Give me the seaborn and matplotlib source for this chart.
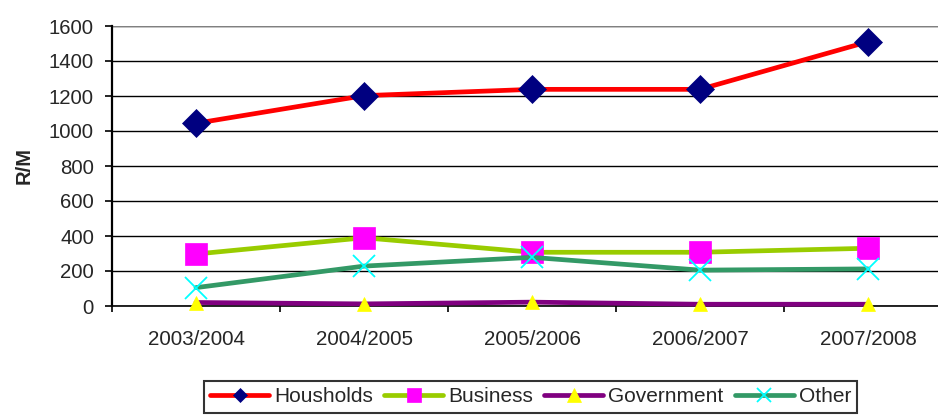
import matplotlib
matplotlib.use("Agg")
import matplotlib.pyplot as plt
from matplotlib.lines import Line2D
import numpy as np
import pandas as pd
import seaborn as sns

# Fiscal years and values (R/M) per sector
years = ["2003/2004", "2004/2005", "2005/2006", "2006/2007", "2007/2008"]
households = [1044, 1202, 1238, 1238, 1510]
business = [297, 390, 307, 307, 330]
government = [20, 12, 22, 10, 10]
other = [105, 228, 278, 205, 212]

series_names = ["Housholds", "Business", "Government", "Other"]
series_values = [households, business, government, other]
y_ticks = [0, 200, 400, 600, 800, 1000, 1200, 1400, 1600]

df = pd.concat(
    [pd.DataFrame({"year": years, "value": v, "sector": n})
     for n, v in zip(series_names, series_values)],
    ignore_index=True,
)

sns.set_style("white")
plt.rcParams["font.family"] = ["Liberation Sans", "DejaVu Sans"]

styles = {
    "Housholds": dict(color="#FF0000", marker="D", mfc="#000080", mec="#000080",
                      ms=14.7, mew=0.5, lms=7.2),
    "Business": dict(color="#99CC00", marker="s", mfc="#FF00FF", mec="#FF00FF",
                     ms=16, mew=0.5, lms=9.5),
    "Government": dict(color="#800080", marker="^", mfc="#FFFF00", mec="#FFFF00",
                       ms=10.5, mew=0.5, lms=10),
    "Other": dict(color="#339966", marker="x", mfc="#00FFFF", mec="#00FFFF",
                  ms=16, mew=1.3, lms=10),
}

fig = plt.figure(figsize=(9.38, 4.18), dpi=100)
ax = fig.add_axes([112 / 938, 112 / 418, 840 / 938, 280 / 418])

handles = []
for name in series_names:
    st = styles[name]
    sub = df[df["sector"] == name]
    sns.lineplot(data=sub, x="year", y="value", ax=ax, color=st["color"],
                 linewidth=3.4, marker=st["marker"], markersize=st["ms"],
                 markerfacecolor=st["mfc"], markeredgecolor=st["mec"],
                 markeredgewidth=st["mew"], legend=False, sort=False,
                 clip_on=False, zorder=3)
    handles.append(Line2D([0], [0], color=st["color"], linewidth=3.4,
                          marker=st["marker"], markersize=st["lms"],
                          markerfacecolor=st["mfc"], markeredgecolor=st["mec"],
                          markeredgewidth=st["mew"], label=name))

ax.set_xlim(-0.5, len(years) - 0.5)
ax.set_ylim(0, 1600)
ax.set_yticks(y_ticks)
ax.set_xticks(range(len(years)))
ax.set_xticklabels(years)
ax.set_xticks(np.arange(-0.5, len(years), 1.0), minor=True)

ax.grid(axis="y", color="black", linewidth=1.0)
ax.grid(axis="x", visible=False)
ax.axhline(1600, color="#808080", linewidth=1.6, zorder=1)
ax.set_axisbelow(True)

for side in ["top", "right"]:
    ax.spines[side].set_visible(False)
ax.spines["left"].set_color("black")
ax.spines["left"].set_linewidth(1.6)
ax.spines["bottom"].set_color("black")
ax.spines["bottom"].set_linewidth(1.2)

ax.tick_params(axis="y", which="major", left=True, length=5, width=1.2,
               color="black", labelsize=14.7, pad=8)
ax.tick_params(axis="x", which="major", bottom=False, length=0,
               labelsize=14.9, pad=17)
ax.tick_params(axis="x", which="minor", bottom=True, length=4.5, width=1.2,
               color="black", direction="out")

ax.set_xlabel("")
ax.set_ylabel("R/M", fontsize=14.5, fontweight="bold", labelpad=11)

leg = fig.legend(handles=handles, loc="upper left",
                 bbox_to_anchor=(204 / 938, 1 - 381 / 418), ncol=4,
                 frameon=True, fancybox=False, fontsize=15,
                 handlelength=2.83, handletextpad=0.24, columnspacing=0.54,
                 borderpad=0.3, borderaxespad=0)
leg.get_frame().set_edgecolor("black")
leg.get_frame().set_linewidth(1.5)

fig.savefig("out.png", dpi=100)
